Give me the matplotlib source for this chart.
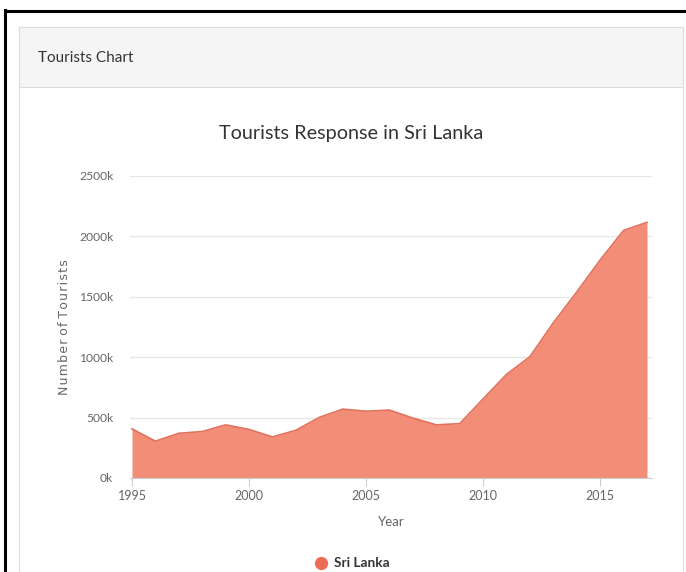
import numpy as np
import matplotlib
matplotlib.use("Agg")
import matplotlib.pyplot as plt
from matplotlib.patches import Rectangle
from matplotlib.lines import Line2D
from matplotlib.ticker import FuncFormatter

# данные
years = list(range(1995, 2018))
tourists = [407000, 305000, 370000, 385000, 440000, 402000, 340000, 395000,
            502000, 570000, 553000, 562000, 496000, 440000, 450000, 655000,
            858000, 1005000, 1285000, 1540000, 1805000, 2050000, 2116000]
series_name = "Sri Lanka"
chart_title = "Tourists Response in Sri Lanka"
panel_title = "Tourists Chart"

W, H = 686, 572
fill_color = "#f28d78"
edge_color = "#e2705c"
grid_color = "#e6e6e6"
text_gray = "#666666"

plt.rcParams['font.family'] = ['Lato', 'DejaVu Sans']

fig = plt.figure(figsize=(W / 100, H / 100), dpi=100)
fig.patch.set_facecolor("white")


# перевод пикселей (от верхнего левого угла) в координаты фигуры
def fx(x):
    return x / W


def fy(y):
    return 1 - y / H


# рамка и карточка (под осями)
fig.add_artist(Line2D([fx(5), fx(5)], [fy(10), fy(H)], color="black", lw=2.2, zorder=-5))
fig.add_artist(Line2D([fx(5), fx(W)], [fy(11), fy(11)], color="black", lw=2.2, zorder=-5))
fig.add_artist(Rectangle((fx(19), fy(H + 5)), fx(683) - fx(19), fy(27) - fy(H + 5),
                         facecolor="white", edgecolor="#dddddd", lw=0.8, zorder=-10))
fig.add_artist(Rectangle((fx(19), fy(87)), fx(683) - fx(19), fy(27) - fy(87),
                         facecolor="#f5f5f5", edgecolor="#dddddd", lw=0.8, zorder=-9))
fig.text(fx(38), fy(58), panel_title, fontsize=11, color="#333333",
         ha="left", va="center")

# область графика
left, right, top, bottom = 130, 652, 176, 478
ax = fig.add_axes([fx(left), fy(bottom), fx(right) - fx(left), fy(top) - fy(bottom)])
ax.set_facecolor("none")
ax.fill_between(years, tourists, 0, color=fill_color, lw=0, zorder=2)
ax.plot(years, tourists, color=edge_color, lw=1.2, zorder=3)

ax.set_xlim(1995 - 2 / 23.4, 2017 + 5 / 23.4)
ax.set_ylim(0, 2500000)
ax.set_yticks(np.arange(0, 2500001, 500000))
ax.set_xticks([1995, 2000, 2005, 2010, 2015])
ax.yaxis.set_major_formatter(FuncFormatter(lambda v, p: f"{int(v / 1000)}k"))
ax.grid(axis="y", color=grid_color, lw=0.9, zorder=0)
ax.set_axisbelow(True)
for s in ["top", "right", "left"]:
    ax.spines[s].set_visible(False)
ax.spines["bottom"].set_color("#cccccc")
ax.spines["bottom"].set_zorder(4)
ax.tick_params(axis="y", length=0, pad=12, labelsize=8.7, labelcolor=text_gray)
ax.tick_params(axis="x", length=6, color="#cccccc", pad=3, labelsize=9,
               labelcolor=text_gray)

fig.text(fx(351), fy(134), chart_title, fontsize=14.3, color="#333333",
         ha="center", va="center")
ax.set_xlabel("Year", fontsize=9.5, color=text_gray, labelpad=10)
ax.set_ylabel("N\u200au\u200am\u200ab\u200ae\u200ar\u2009\u200ao\u200af\u2009\u200aT\u200ao\u200au\u200ar\u200ai\u200as\u200at\u200as",
              fontsize=9, color=text_gray, labelpad=6, family="DejaVu Sans")

# легенда
fig.add_artist(Line2D([fx(321)], [fy(563)], marker="o", markersize=8.5,
                      color="#ee6b55", lw=0))
fig.text(fx(334), fy(563), series_name, fontsize=9.8, fontweight="bold",
         color="#333333", ha="left", va="center")

fig.savefig("out.png", dpi=100)
